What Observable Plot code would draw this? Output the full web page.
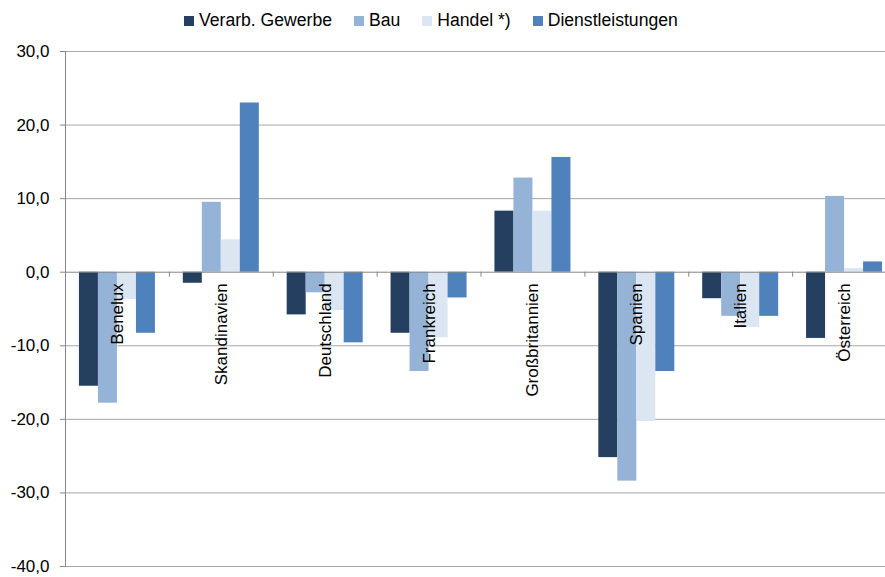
<!DOCTYPE html>
<html><head><meta charset="utf-8">
<script src="https://cdn.jsdelivr.net/npm/d3@7"></script>
<script src="https://cdn.jsdelivr.net/npm/@observablehq/plot@0.6"></script>
<style>
body{margin:0;background:#fff;font-family:"Liberation Sans",Arial,sans-serif;}
#legend{height:38px;display:flex;align-items:center;padding-left:184px;padding-top:3px;font-size:17.6px;color:#000;box-sizing:border-box}
.item{display:flex;align-items:center;margin-right:22px}
.sw{width:10px;height:10px;margin-right:5px}
#chart svg{display:block}
</style></head><body><div id="legend"></div><div id="chart"></div>
<script>
const countries = ["Benelux","Skandinavien","Deutschland","Frankreich","Großbritannien","Spanien","Italien","Österreich"];
const series = ["Verarb. Gewerbe","Bau","Handel *)","Dienstleistungen"];
const colors = ["#243F60","#95B3D7","#DCE6F2","#4F81BD"];
const verarb = [-15.5,-1.5,-5.8,-8.3,8.3,-25.2,-3.6,-9.0];
const bau    = [-17.8,9.5,-2.8,-13.5,12.8,-28.4,-6.0,10.3];
const handel = [-3.7,4.4,-5.2,-8.9,8.3,-20.3,-7.5,0.5];
const dienst = [-8.3,23.0,-9.6,-3.5,15.6,-13.5,-6.0,1.4];
const yTicks = [30,20,10,0,-10,-20,-30,-40];

const values = [verarb, bau, handel, dienst];
const data = [];
series.forEach((s, i) => countries.forEach((c, j) => data.push({country: c, series: s, value: values[i][j]})));

// legend
const leg = document.getElementById("legend");
series.forEach((s, i) => {
  const it = document.createElement("div"); it.className = "item";
  const sw = document.createElement("div"); sw.className = "sw"; sw.style.background = colors[i];
  const tx = document.createElement("span"); tx.textContent = s;
  it.appendChild(sw); it.appendChild(tx); leg.appendChild(it);
});

const W = 885, H = 539, mL = 65, mR = -11;
const bw = (W - mR - mL) / countries.length;
const barW = 19;
const pad = (bw - series.length * barW) / 2;
const fmt = d => d.toFixed(1).replace(".", ",");

const marks = [
  Plot.ruleY(yTicks.filter(d => d !== 0), {stroke: "#a6a6a6", strokeWidth: 1}),
];
series.forEach((s, i) => {
  marks.push(Plot.barY(data.filter(d => d.series === s), {
    x: "country", y: "value", fill: colors[i],
    insetLeft: pad + i * barW, insetRight: bw - pad - (i + 1) * barW
  }));
});
marks.push(
  Plot.ruleY([0], {stroke: "#868686", strokeWidth: 1}),
  Plot.ruleX(countries.slice(1), {x: d => d, dx: -bw / 2, y1: 0, y2: -0.68, stroke: "#868686"}),
  Plot.ruleX([countries[0]], {x: d => d, dx: -bw / 2, y1: -40, y2: 30, stroke: "#868686"}),
  Plot.axisY({ticks: yTicks, label: null, tickSize: 5, tickPadding: 11, tickFormat: fmt, fontSize: 17, stroke: "#868686", color: "#000"}),
  Plot.text(countries, {x: d => d, y: 0, text: d => d, rotate: -90, textAnchor: "end", lineAnchor: "middle", dy: 11, fontSize: 17, fill: "#000"})
);

const chart = Plot.plot({
  width: W, height: H,
  marginLeft: mL, marginRight: mR, marginTop: 13, marginBottom: 11,
  style: {fontFamily: "Liberation Sans, Arial, sans-serif", fontSize: "17px", color: "#000", background: "#fff"},
  x: {domain: countries, padding: 0, round: false, axis: null},
  y: {domain: [-40, 30], axis: null},
  marks
});
document.getElementById("chart").appendChild(chart);
</script>
</body></html>
